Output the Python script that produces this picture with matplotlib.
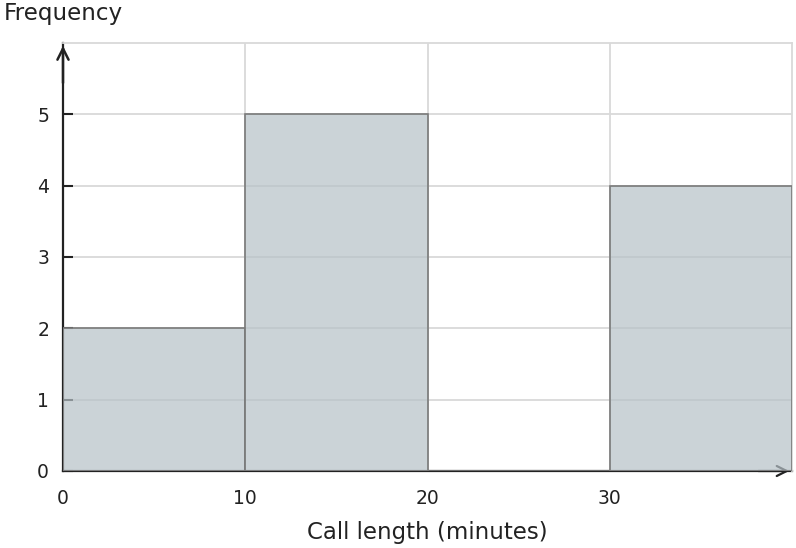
import numpy as np
import matplotlib.pyplot as plt

# histogram of call lengths
bin_edges = [0, 10, 20, 30, 40]
counts = [2, 5, 0, 4]
x_ticks = [0, 10, 20, 30]
y_ticks = [0, 1, 2, 3, 4, 5]

fig = plt.figure(figsize=(7.96, 5.48), dpi=100)
ax = fig.add_axes([63 / 796, 77 / 548, 729 / 796, 428 / 548])

lefts = np.array(bin_edges[:-1])
widths = np.diff(bin_edges)
ax.bar(lefts, counts, width=widths, align="edge",
       color=(182 / 255, 193 / 255, 199 / 255, 0.7),
       edgecolor="#7a7a7a", linewidth=1.2, zorder=3)

ax.set_xlim(0, 40)
ax.set_ylim(0, 6)
ax.set_xticks(x_ticks)
ax.set_yticks(y_ticks)
ax.tick_params(axis="x", length=0, pad=13, labelsize=13.5, labelcolor="#222222")
ax.tick_params(axis="y", direction="in", length=7, width=1.5, color="#222222",
               pad=10, labelsize=13.5, labelcolor="#222222")

ax.grid(True, color="#d9d9d9", linewidth=1.3, zorder=0)
ax.set_axisbelow(True)

for side in ("top", "right"):
    ax.spines[side].set_color("#d9d9d9")
    ax.spines[side].set_linewidth(1.3)
for side in ("left", "bottom"):
    ax.spines[side].set_color("#222222")
    ax.spines[side].set_linewidth(1.6)
    ax.spines[side].set_zorder(2)

# axis arrows
ax.annotate("", xy=(0, 1.0), xytext=(0, 0.9), xycoords="axes fraction",
            arrowprops=dict(arrowstyle="->", color="#222222", lw=1.8,
                            mutation_scale=20), annotation_clip=False)
ax.annotate("", xy=(1.0, 0), xytext=(0.95, 0), xycoords="axes fraction",
            arrowprops=dict(arrowstyle="->", color="#222222", lw=1.6,
                            mutation_scale=18), annotation_clip=False,
            zorder=2)

ax.set_xlabel("Call length (minutes)", fontsize=16.5, color="#222222", labelpad=9)
fig.text(4 / 796, 1 - 20 / 548, "Frequency", fontsize=16.6, color="#222222",
         ha="left", va="baseline")

fig.savefig("out.png", dpi=100)
